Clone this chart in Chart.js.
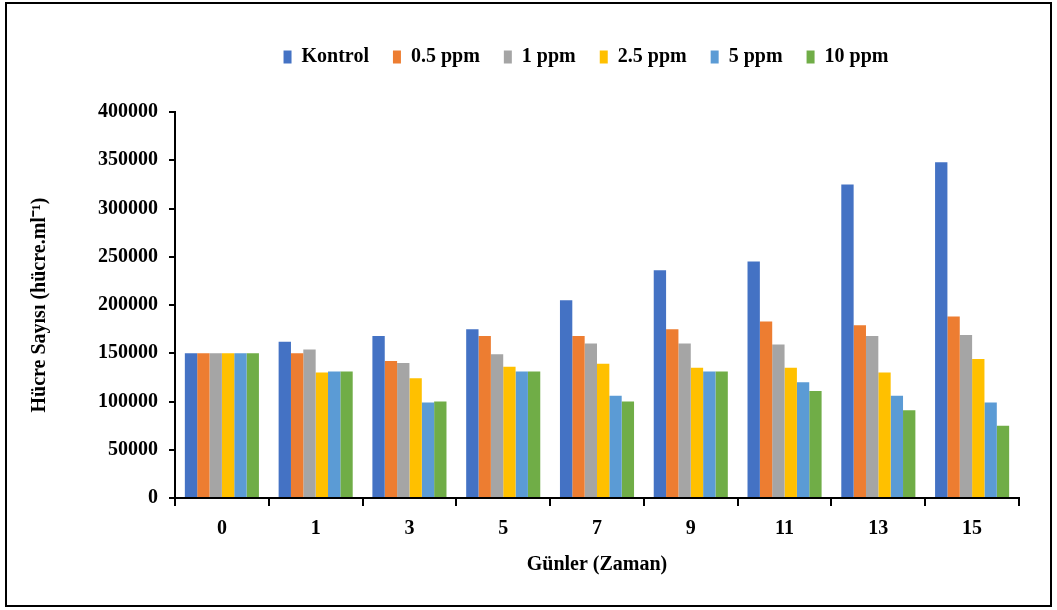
<!DOCTYPE html>
<html>
<head>
<meta charset="utf-8">
<script src="https://cdn.jsdelivr.net/npm/chart.js@4.4.1/dist/chart.umd.min.js"></script>
<style>
  html, body { margin: 0; padding: 0; background: #fff; }
  #frame { position: absolute; left: 5px; top: 2px; width: 1047px; height: 605px; border: 2px solid #000; box-sizing: border-box; }
  #frame canvas { display: block; }
</style>
</head>
<body>
<div id="frame"><canvas id="chart" width="1043" height="601"></canvas></div>
<script>
// Days and cell counts per treatment
const days    = ["0", "1", "3", "5", "7", "9", "11", "13", "15"];
const kontrol = [150000, 162000, 168000, 175000, 205000, 236000, 245000, 325000, 348000];
const ppm05   = [150000, 150000, 142000, 168000, 168000, 175000, 183000, 179000, 188000];
const ppm1    = [150000, 154000, 140000, 149000, 160000, 160000, 159000, 168000, 169000];
const ppm25   = [150000, 130000, 124000, 136000, 139000, 135000, 135000, 130000, 144000];
const ppm5    = [150000, 131000, 99000, 131000, 106000, 131000, 120000, 106000, 99000];
const ppm10   = [150000, 131000, 100000, 131000, 100000, 131000, 111000, 91000, 75000];
const seriesNames = ["Kontrol", "0.5 ppm", "1 ppm", "2.5 ppm", "5 ppm", "10 ppm"];
const yTicks = [0, 50000, 100000, 150000, 200000, 250000, 300000, 350000, 400000];

const colors = ["#4472C4", "#ED7D31", "#A5A5A5", "#FFC000", "#5B9BD5", "#70AD47"];
const FONT = "'Liberation Serif', 'Times New Roman', serif";
const bold = (size) => ({family: FONT, size, weight: "bold"});

const ds = [kontrol, ppm05, ppm1, ppm25, ppm5, ppm10].map((data, i) => ({
  label: seriesNames[i], data, backgroundColor: colors[i], borderWidth: 0,
  barPercentage: 1, categoryPercentage: 0.79,
}));

// extra room under the legend, and nudge it over the plot area
const legendSpace = {
  id: "legendSpace",
  beforeInit(chart) {
    const fit = chart.legend.fit;
    chart.legend.fit = function () { fit.bind(chart.legend)(); this.height += 35; };
  },
  afterLayout(chart) { chart.legend.left += 73; chart.legend.right += 73; },
};

new Chart(document.getElementById("chart"), {
  type: "bar",
  data: {labels: days, datasets: ds},
  plugins: [legendSpace],
  options: {
    responsive: false, animation: false,
    layout: {padding: {top: 19, right: 31, bottom: 26, left: 0}},
    plugins: {
      tooltip: {enabled: false},
      legend: {
        position: "top",
        labels: {color: "#000", font: bold(20), boxWidth: 8, boxHeight: 13, padding: 24},
      },
    },
    scales: {
      x: {
        grid: {display: true, drawOnChartArea: false, offset: true, color: "#000", lineWidth: 2, tickLength: 8},
        border: {color: "#000", width: 2},
        ticks: {color: "#000", font: bold(20), padding: 11, maxRotation: 0},
        title: {display: true, text: "Günler (Zaman)", color: "#000", font: bold(20), padding: {top: 1, bottom: 2}},
      },
      y: {
        min: 0, max: 400000,
        afterFit(scale) { scale.width = 168; },
        afterBuildTicks(scale) { scale.ticks = yTicks.map(v => ({value: v})); },
        grid: {display: true, drawOnChartArea: false, color: "#000", lineWidth: 2, tickLength: 6},
        border: {color: "#000", width: 2},
        ticks: {color: "#000", font: bold(20), padding: 11, callback: v => String(v)},
        title: {display: true, text: "Hücre Sayısı (hücre.ml⁻¹)", color: "#000", font: bold(20), padding: {top: 21, bottom: 0}},
      },
    },
  },
});
</script>
</body>
</html>
